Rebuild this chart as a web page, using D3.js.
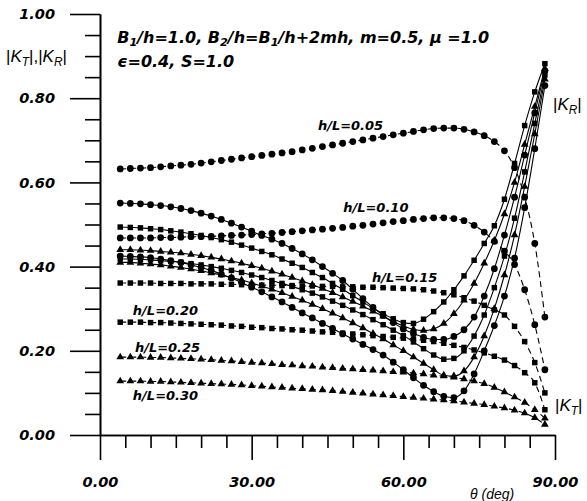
<!DOCTYPE html>
<html>
<head>
<meta charset="utf-8">
<script src="https://cdn.jsdelivr.net/npm/d3@7"></script>
<style>
  body { margin: 0; background: #fff; }
  svg { display: block; }
</style>
</head>
<body>
<div id="chart"></div>
<script>
// incident angle (deg)
var theta = [4,6,8,10,12,14,16,18,20,22,24,26,28,30,32,34,36,38,40,42,44,46,48,50,52,54,56,58,60,62,64,66,68,70,72,74,76,78,80,82,84,86,88];

// |KT| (dashed)
var kt05 = [0.632,0.633,0.634,0.635,0.637,0.639,0.641,0.643,0.646,0.649,0.652,0.655,0.658,0.661,0.664,0.667,0.670,0.673,0.677,0.681,0.685,0.689,0.693,0.697,0.701,0.705,0.709,0.713,0.717,0.721,0.725,0.728,0.729,0.729,0.726,0.720,0.711,0.697,0.675,0.635,0.565,0.455,0.280];
var kt10 = [0.468,0.468,0.468,0.468,0.469,0.469,0.470,0.471,0.471,0.472,0.473,0.474,0.475,0.476,0.478,0.479,0.481,0.483,0.485,0.487,0.489,0.491,0.493,0.496,0.498,0.501,0.504,0.507,0.509,0.512,0.514,0.516,0.516,0.514,0.509,0.498,0.482,0.460,0.437,0.405,0.345,0.262,0.155];
var kt15 = [0.361,0.361,0.361,0.361,0.360,0.360,0.360,0.359,0.359,0.359,0.358,0.358,0.357,0.357,0.356,0.356,0.355,0.355,0.354,0.354,0.353,0.353,0.352,0.352,0.351,0.351,0.350,0.349,0.348,0.347,0.345,0.342,0.338,0.333,0.326,0.318,0.308,0.297,0.285,0.258,0.222,0.172,0.100];
var kt20 = [0.268,0.268,0.268,0.267,0.267,0.266,0.265,0.264,0.263,0.262,0.261,0.259,0.258,0.256,0.255,0.253,0.252,0.250,0.249,0.247,0.245,0.244,0.242,0.240,0.238,0.236,0.234,0.232,0.230,0.228,0.225,0.222,0.218,0.213,0.208,0.202,0.195,0.187,0.178,0.165,0.148,0.124,0.060];
var kt25 = [0.185,0.185,0.185,0.184,0.184,0.183,0.182,0.181,0.180,0.179,0.177,0.176,0.174,0.172,0.171,0.169,0.167,0.166,0.164,0.163,0.161,0.160,0.158,0.157,0.155,0.154,0.152,0.150,0.149,0.147,0.145,0.142,0.140,0.137,0.133,0.128,0.122,0.113,0.102,0.090,0.077,0.060,0.040];
var kt30 = [0.128,0.128,0.128,0.127,0.127,0.126,0.125,0.124,0.123,0.122,0.121,0.120,0.119,0.117,0.116,0.114,0.113,0.111,0.110,0.108,0.107,0.105,0.103,0.101,0.099,0.097,0.095,0.093,0.091,0.089,0.087,0.085,0.083,0.081,0.078,0.075,0.072,0.068,0.064,0.059,0.052,0.041,0.025];

// |KR| (solid)
var kr05 = [0.551,0.550,0.549,0.547,0.545,0.542,0.538,0.533,0.527,0.520,0.512,0.503,0.494,0.484,0.474,0.465,0.455,0.443,0.430,0.416,0.400,0.384,0.367,0.346,0.324,0.303,0.284,0.267,0.252,0.241,0.232,0.227,0.227,0.234,0.250,0.280,0.330,0.395,0.475,0.565,0.665,0.765,0.865];
var kr10 = [0.425,0.424,0.423,0.421,0.418,0.414,0.410,0.404,0.398,0.391,0.382,0.373,0.362,0.351,0.340,0.328,0.316,0.303,0.290,0.278,0.265,0.253,0.240,0.228,0.215,0.203,0.190,0.173,0.155,0.136,0.118,0.103,0.092,0.089,0.105,0.145,0.200,0.260,0.330,0.420,0.540,0.680,0.830];
var kr15 = [0.494,0.493,0.492,0.490,0.488,0.485,0.482,0.478,0.474,0.469,0.464,0.458,0.451,0.444,0.436,0.428,0.418,0.408,0.398,0.386,0.374,0.360,0.346,0.331,0.316,0.301,0.288,0.276,0.267,0.265,0.275,0.293,0.316,0.345,0.378,0.415,0.455,0.497,0.560,0.645,0.735,0.815,0.882];
var kr20 = [0.418,0.418,0.417,0.416,0.414,0.412,0.410,0.407,0.404,0.400,0.396,0.391,0.386,0.380,0.374,0.367,0.360,0.353,0.345,0.337,0.328,0.318,0.308,0.297,0.286,0.274,0.262,0.249,0.236,0.221,0.205,0.190,0.180,0.182,0.200,0.235,0.285,0.350,0.425,0.515,0.625,0.740,0.855];
var kr25 = [0.440,0.440,0.439,0.438,0.436,0.434,0.432,0.429,0.426,0.422,0.418,0.413,0.408,0.402,0.396,0.389,0.382,0.374,0.366,0.357,0.348,0.338,0.328,0.317,0.306,0.294,0.282,0.270,0.259,0.251,0.248,0.252,0.265,0.288,0.320,0.360,0.408,0.462,0.525,0.600,0.690,0.780,0.870];
var kr30 = [0.410,0.410,0.408,0.406,0.404,0.401,0.398,0.394,0.390,0.385,0.380,0.374,0.368,0.361,0.354,0.346,0.338,0.329,0.320,0.310,0.300,0.289,0.278,0.266,0.254,0.241,0.228,0.214,0.200,0.185,0.170,0.155,0.142,0.140,0.152,0.185,0.235,0.300,0.380,0.475,0.590,0.715,0.845];

var ktMarkers = ["circle", "circle", "square", "square", "triangle", "triangle"];
var krMarkers = ["circle", "circle", "square", "square", "triangle", "triangle"];
var hlLabels = ["h/L=0.05", "h/L=0.10", "h/L=0.15", "h/L=0.20", "h/L=0.25", "h/L=0.30"];

var xTicks = [0, 30, 60, 90];
var xMinor = [5, 10, 15, 20, 25, 35, 40, 45, 50, 55, 65, 70, 75, 80, 85];
var yTicks = [0, 0.2, 0.4, 0.6, 0.8, 1.0];
var yMinor = [0.05, 0.1, 0.15, 0.25, 0.3, 0.35, 0.45, 0.5, 0.55, 0.65, 0.7, 0.75, 0.85, 0.9, 0.95];

var width = 587, height = 501;
var boldFont = "'DejaVu Sans', sans-serif";
var plainFont = "'Liberation Sans', Arial, sans-serif";

var svg = d3.select("#chart").append("svg")
    .attr("width", width)
    .attr("height", height);

var xScale = d3.scaleLinear().domain([0, 90]).range([100, 555]);
var yScale = d3.scaleLinear().domain([0, 1]).range([435, 14]);

var series = [];
[kt05, kt10, kt15, kt20, kt25, kt30].forEach(function(v, i) {
  series.push({kind: "kt", marker: ktMarkers[i], values: v});
});
[kr05, kr10, kr15, kr20, kr25, kr30].forEach(function(v, i) {
  series.push({kind: "kr", marker: krMarkers[i], values: v});
});

var line = d3.line()
    .curve(d3.curveMonotoneX)
    .x(function(d) { return xScale(d.x); })
    .y(function(d) { return yScale(d.y); });

var symbolType = {circle: d3.symbolCircle, square: d3.symbolSquare, triangle: d3.symbolTriangle};
var symbolSize = {circle: 36, square: 30, triangle: 26};

// curves
series.forEach(function(s) {
  var pts = theta.map(function(t, j) { return {x: t, y: s.values[j]}; });
  svg.append("path")
    .datum(pts)
    .attr("d", line)
    .style("fill", "none")
    .style("stroke", "#000")
    .style("stroke-width", 1.1)
    .style("stroke-dasharray", s.kind == "kt" ? "6,4" : null);

  svg.selectAll(null)
    .data(pts)
   .enter()
    .append("path")
    .attr("transform", function(d) { return "translate(" + xScale(d.x) + "," + yScale(d.y) + ")"; })
    .attr("d", d3.symbol().type(symbolType[s.marker]).size(symbolSize[s.marker]))
    .style("fill", "#000");
});

// y axis
var yAxisMajor = d3.axisLeft(yScale)
    .tickValues(yTicks)
    .tickSize(30)
    .tickSizeOuter(0)
    .tickPadding(15)
    .tickFormat(d3.format(".2f"));
var yAxisMinor = d3.axisLeft(yScale)
    .tickValues(yMinor)
    .tickSize(15)
    .tickSizeOuter(0)
    .tickFormat("");

svg.append("g").attr("class", "y axis minor")
    .attr("transform", "translate(100,0)")
    .call(yAxisMinor);
svg.append("g").attr("class", "y axis major")
    .attr("transform", "translate(100,0)")
    .call(yAxisMajor);

// x axis
var xAxisMajor = d3.axisBottom(xScale)
    .tickValues(xTicks)
    .tickSize(25)
    .tickSizeOuter(0)
    .tickPadding(17)
    .tickFormat(d3.format(".2f"));
var xAxisMinor = d3.axisBottom(xScale)
    .tickValues(xMinor)
    .tickSize(13)
    .tickSizeOuter(0)
    .tickFormat("");

svg.append("g").attr("class", "x axis minor")
    .attr("transform", "translate(0,435)")
    .call(xAxisMinor);
svg.append("g").attr("class", "x axis major")
    .attr("transform", "translate(0,435)")
    .call(xAxisMajor);

svg.selectAll(".axis path, .axis line")
    .style("stroke", "#000")
    .style("stroke-width", 1.6);
svg.selectAll(".axis.major text")
    .style("fill", "#000")
    .style("font-family", boldFont)
    .style("font-size", "14.5px")
    .style("font-weight", "bold")
    .style("font-style", "italic");

// text helper with subscripts
function richText(x, y, parts, font, size, weight, subShift) {
  var shift = size * (subShift || 0.25);
  var t = svg.append("text")
      .attr("x", x)
      .attr("y", y)
      .style("font-family", font)
      .style("font-size", size + "px")
      .style("font-weight", weight)
      .style("fill", "#000");
  parts.forEach(function(p) {
    var sp = t.append("tspan").text(p.t);
    if (p.sub) {
      sp.attr("dy", shift).style("font-size", (size * 0.7) + "px");
    } else if (p.after) {
      sp.attr("dy", -shift);
    }
    if (p.italic) sp.style("font-style", "italic");
  });
  return t;
}

// y axis title
richText(6, yScale(0.9) + 6, [
  {t: "|"}, {t: "K", italic: true}, {t: "T", sub: true, italic: true}, {t: "|,|", after: true},
  {t: "K", italic: true}, {t: "R", sub: true, italic: true}, {t: "|", after: true}
], plainFont, 17, "normal");

// parameter annotation
richText(xScale(3.4), yScale(0.93), [
  {t: "B", italic: true}, {t: "1", sub: true, italic: true}, {t: "/h=1.0, B", after: true, italic: true},
  {t: "2", sub: true, italic: true}, {t: "/h=B", after: true, italic: true},
  {t: "1", sub: true, italic: true}, {t: "/h+2mh, m=0.5, ", after: true, italic: true},
  {t: "\u03bc", italic: true}, {t: " =1.0", italic: true}
], boldFont, 16, "bold", 0.15);
richText(xScale(3.4), yScale(0.873), [
  {t: "\u03f5=0.4, S=1.0", italic: true}
], boldFont, 16, "bold");

// curve labels
var labelPos = [[43.1, 0.7245], [48.1, 0.5297], [53.8, 0.3634], [6.5, 0.285], [6.9, 0.197], [6.5, 0.083]];
hlLabels.forEach(function(lab, i) {
  svg.append("text")
    .attr("x", xScale(labelPos[i][0]))
    .attr("y", yScale(labelPos[i][1]))
    .text(lab)
    .style("font-family", boldFont)
    .style("font-size", "13px")
    .style("font-weight", "bold")
    .style("font-style", "italic")
    .style("fill", "#000");
});

richText(xScale(89.6), yScale(0.772), [
  {t: "|"}, {t: "K", italic: true}, {t: "R", sub: true, italic: true}, {t: "|", after: true}
], plainFont, 17, "normal");
richText(xScale(90), yScale(0.057), [
  {t: "|"}, {t: "K", italic: true}, {t: "T", sub: true, italic: true}, {t: "|", after: true}
], plainFont, 17, "normal");

// x axis title
richText(470, 499, [
  {t: "\u03b8", italic: true}, {t: " (deg)", italic: true}
], plainFont, 14, "normal");
</script>
</body>
</html>
